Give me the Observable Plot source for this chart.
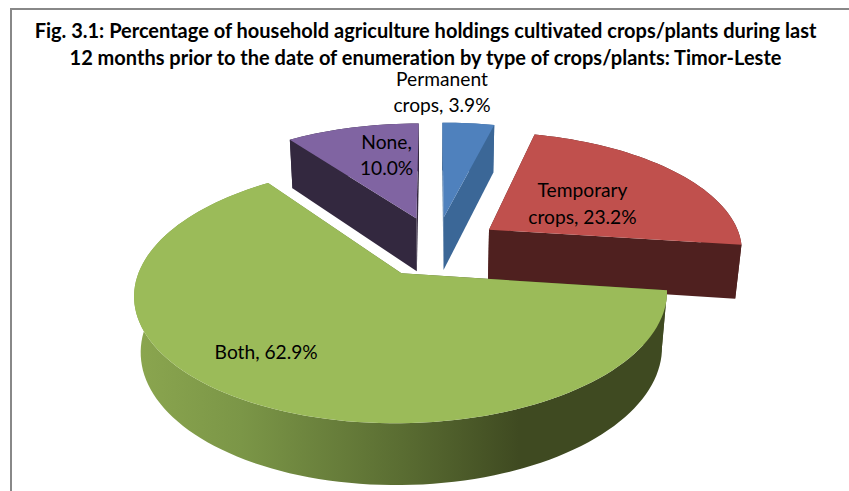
<!DOCTYPE html>
<html><head><meta charset="utf-8">
<script src="https://cdn.jsdelivr.net/npm/d3@7"></script>
<script src="https://cdn.jsdelivr.net/npm/@observablehq/plot@0.6"></script>
<style>
html,body{margin:0;padding:0;background:#fff;overflow:hidden}
#frame{position:absolute;left:10px;top:8px;width:839px;height:483px;border-left:2px solid #888;border-top:2px solid #888;box-sizing:border-box}
#title{position:absolute;left:0;top:17px;width:851px;text-align:center;font:700 20px/27px Lato,sans-serif;font-variant-ligatures:none;color:#000;z-index:2;white-space:nowrap}
#chart{position:absolute;left:0;top:0}
</style></head><body>
<div id="frame"></div>
<div id="title">Fig. 3.1: Percentage of household agriculture holdings cultivated crops/plants during last<br>12 months prior to the date of enumeration by type of crops/plants: Timor-Leste</div>
<div id="chart"></div>
<script>
const categories = ["Permanent crops","Temporary crops","Both","None"];
const values = [3.9,23.2,62.9,10.0];
const labels = ["Permanent\ncrops, 3.9%","Temporary\ncrops, 23.2%","Both, 62.9%","None,\n10.0%"];
const labelAngle = [0,59.2,218.6,347.5];
const labelRadius = [1.383,0.4627,0.731,0.647];
const topColors = ["#4f81bd","#c0504d","#9bbb59","#8064a2"];
const sideColors = ["#3b6797","#4f201f","url(#greenSide)","#33283f"];

// Perspective camera of the tilted, exploded 3-D pie
const [Cx,Cy,R,A,k,q,B,explode,skew] = [435.547,245.874,254.055,117.566,0.154,-0.021,55.214,0.258,-0.354];
const rad = Math.PI/180;
const total = d3.sum(values);
let acc = 0;
const slices = values.map((v,i)=>{
  const a0 = acc/total*360; acc += v; const a1 = acc/total*360;
  return {i,a0,a1,m:(a0+a1)/2};
});
function proj(t,r,mid,z){
  const u = r*Math.sin(t*rad)+explode*Math.sin(mid*rad),
        v = r*Math.cos(t*rad)+explode*Math.cos(mid*rad),
        w = 1+k*v+q*z;
  return [Cx+(R*u+skew*v)/w, Cy-(A*v+B*z)/w];
}
function rim(s,z){
  const n = Math.max(2,Math.ceil((s.a1-s.a0)/2));
  return d3.range(n+1).map(j=>proj(s.a0+(s.a1-s.a0)*j/n,1,s.m,z));
}
function faces(s){
  const ap0 = proj(0,0,s.m,0), ap1 = proj(0,0,s.m,-1);
  const rimT = rim(s,0), rimB = rim(s,-1), e = rimT.length-1;
  return {
    top:[ap0,...rimT],
    side:[[...rimT,...rimB.slice().reverse()],[ap0,rimT[0],rimB[0],ap1],[ap0,rimT[e],rimB[e],ap1]]
  };
}
const X = d=>d[0], Y = d=>d[1];
const marks = [];
for (const i of [0,3,1,2]) {
  const f = faces(slices[i]);
  f.side.forEach(pg=>marks.push(Plot.line(pg,{x:X,y:Y,fill:sideColors[i],stroke:"none"})));
  marks.push(Plot.line(f.top,{x:X,y:Y,fill:topColors[i],stroke:"none"}));
}
const labelRows = slices.map(s=>{
  const p = proj(labelAngle[s.i],labelRadius[s.i],s.m,0);
  return {x:p[0],y:p[1],text:labels[s.i],category:categories[s.i]};
});
marks.push(Plot.text(labelRows,{x:"x",y:"y",text:"text",dy:-2,fill:"#000",fontSize:19.2,fontFamily:"Lato, sans-serif",lineHeight:1.38,textAnchor:"middle"}));

const defs = ()=>{
  const s = d3.create("svg:defs");
  const g = s.append("linearGradient").attr("id","greenSide").attr("gradientUnits","userSpaceOnUse")
    .attr("x1",134).attr("x2",668).attr("y1",0).attr("y2",0);
  [[0,"#8ba64f"],[.2,"#7b9647"],[.5,"#5a6d32"],[.72,"#3f4a21"],[1,"#3f4a21"]]
    .forEach(([o,c])=>g.append("stop").attr("offset",o).attr("stop-color",c));
  return s.node();
};
const chart = Plot.plot({
  width:849,height:491,margin:0,
  x:{domain:[0,849],axis:null},
  y:{domain:[0,491],range:[0,491],axis:null},
  style:{background:"transparent",fontFamily:"Lato, sans-serif"},
  marks:[defs,...marks]
});
document.getElementById("chart").append(chart);
</script></body></html>
